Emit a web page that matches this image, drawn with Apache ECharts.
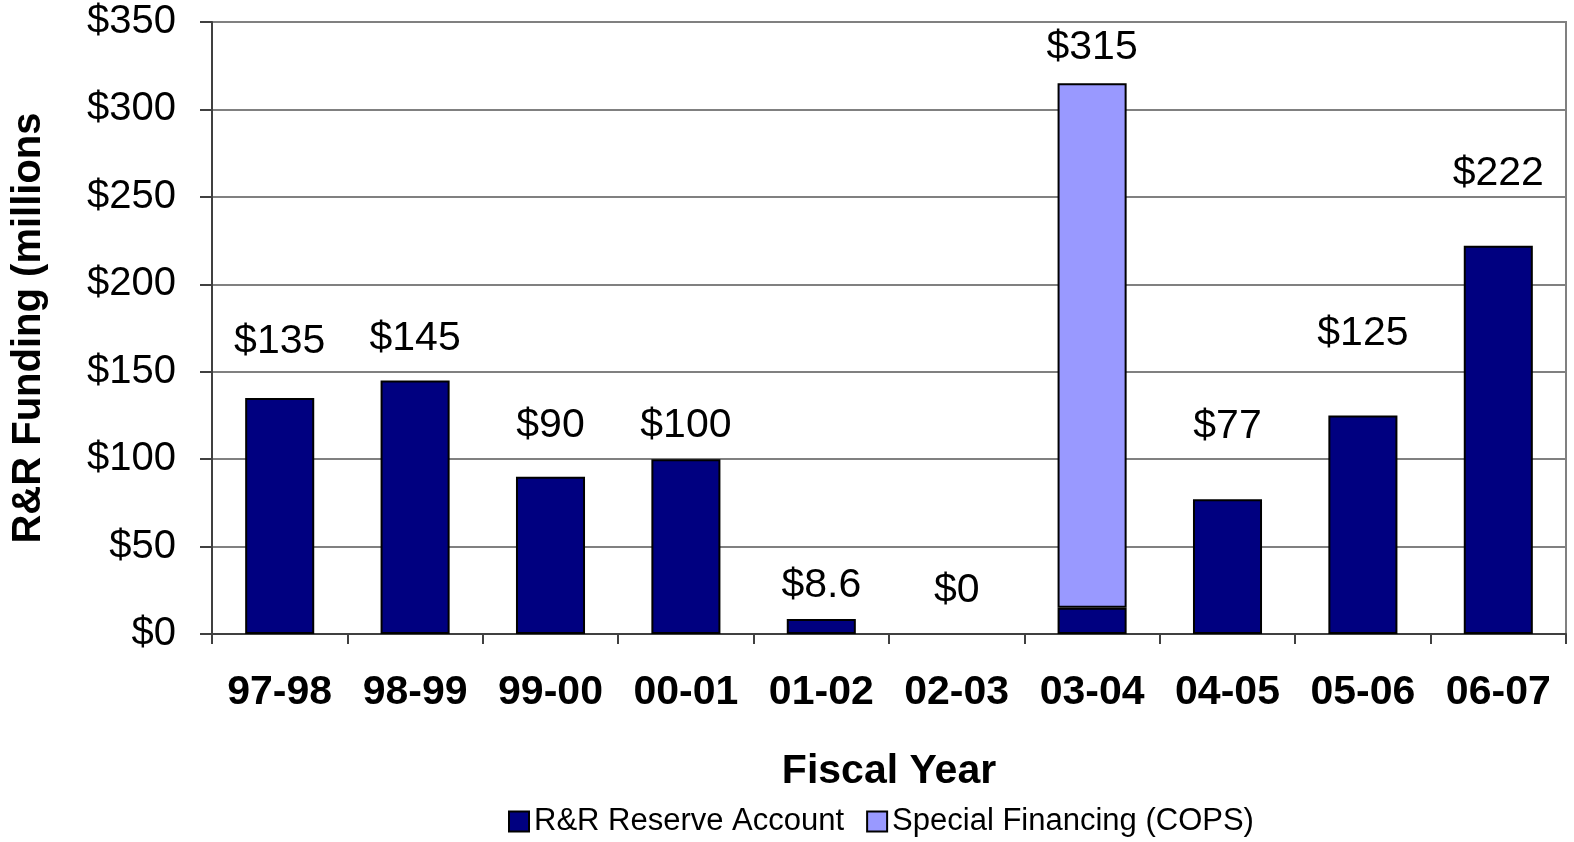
<!DOCTYPE html>
<html>
<head>
<meta charset="utf-8">
<script src="https://cdn.jsdelivr.net/npm/echarts@6/dist/echarts.min.js"></script>
<style>
  html, body { margin: 0; padding: 0; background: #fff; }
  #chart { width: 1574px; height: 842px; }
</style>
</head>
<body>
<div id="chart"></div>
<script>
  // fiscal years and funding ($ millions)
  var years = ['97-98', '98-99', '99-00', '00-01', '01-02', '02-03', '03-04', '04-05', '05-06', '06-07'];
  var reserve = [135, 145, 90, 100, 8.6, 0, 15, 77, 125, 222];
  var special = [0, 0, 0, 0, 0, 0, 300, 0, 0, 0];
  var yTicks = [0, 50, 100, 150, 200, 250, 300, 350];

  // labels in the original sit at hand-placed heights above the bars
  var labelGap = [36, 21, 30, 13, 13, 23, 15, 52, 61, 52];

  var font = 'Liberation Sans, Arial, sans-serif';
  var chart = echarts.init(document.getElementById('chart'));

  var option = {
    animation: false,
    textStyle: { fontFamily: font },
    grid: {
      left: 212, right: 8, top: 22, bottom: 208,
      show: true, borderColor: '#808080', borderWidth: 2
    },
    legend: {
      bottom: 0,
      left: 503,
      icon: 'rect',
      itemWidth: 20,
      itemHeight: 20,
      itemGap: 22,
      textStyle: { fontSize: 31, color: '#000', fontFamily: font },
      data: [
        { name: 'R&R Reserve Account', itemStyle: { borderColor: '#000', borderWidth: 2 } },
        { name: 'Special Financing (COPS)', itemStyle: { borderColor: '#000', borderWidth: 2 } }
      ]
    },
    xAxis: {
      type: 'category',
      data: years,
      name: 'Fiscal Year',
      nameLocation: 'middle',
      nameGap: 117,
      nameTextStyle: { fontSize: 41, fontWeight: 'bold', color: '#000' },
      axisLine: { lineStyle: { color: '#404040', width: 2 } },
      axisTick: { show: true, length: 10, lineStyle: { color: '#404040', width: 2 } },
      axisLabel: { fontSize: 41, fontWeight: 'bold', color: '#000', margin: 38, interval: 0 }
    },
    yAxis: {
      type: 'value',
      min: yTicks[0],
      max: yTicks[yTicks.length - 1],
      interval: 50,
      name: 'R&R Funding (millions',
      nameLocation: 'middle',
      nameGap: 163,
      nameRotate: 90,
      nameTextStyle: { fontSize: 40, fontWeight: 'bold', color: '#000' },
      axisLine: { show: true, lineStyle: { color: '#404040', width: 2 } },
      axisTick: { show: true, length: 12, lineStyle: { color: '#404040', width: 2 } },
      axisLabel: {
        fontSize: 40, color: '#000', margin: 36,
        formatter: function (v) { return '$' + v; }
      },
      splitLine: { lineStyle: { color: '#808080', width: 2 } }
    },
    series: [
      {
        name: 'R&R Reserve Account',
        type: 'bar',
        stack: 'fund',
        barWidth: '51%',
        itemStyle: { color: '#000080', borderColor: '#000', borderWidth: 2 },
        data: reserve.map(function (v) {
          return v === 0 ? { value: v, itemStyle: { borderWidth: 0 } } : v;
        })
      },
      {
        name: 'Special Financing (COPS)',
        type: 'bar',
        stack: 'fund',
        barWidth: '51%',
        itemStyle: { color: '#9999ff', borderColor: '#000', borderWidth: 2 },
        data: special.map(function (v, i) {
          var item = {
            value: v,
            label: {
              show: true,
              position: 'top',
              distance: labelGap[i],
              fontSize: 41,
              color: '#000',
              formatter: '$' + (reserve[i] + special[i])
            }
          };
          if (v === 0) item.itemStyle = { borderWidth: 0 };
          return item;
        })
      }
    ]
  };

  chart.setOption(option);
</script>
</body>
</html>
